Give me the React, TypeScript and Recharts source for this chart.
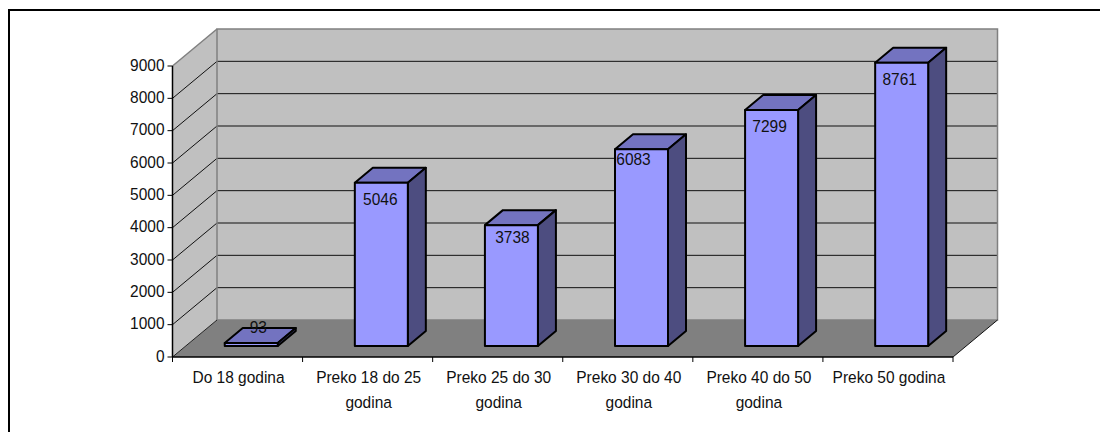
import { BarChart, Bar, XAxis, YAxis, ReferenceArea, LabelList } from "recharts";

const categories = [
  ["Do 18 godina"],
  ["Preko 18 do 25", "godina"],
  ["Preko 25 do 30", "godina"],
  ["Preko 30 do 40", "godina"],
  ["Preko 40 do 50", "godina"],
  ["Preko 50 godina"],
];
const values = [93, 5046, 3738, 6083, 7299, 8761];
const yTicks = [0, 1000, 2000, 3000, 4000, 5000, 6000, 7000, 8000, 9000];
const yMax = 9000;

const chartData = categories.map((lines, i) => ({ name: lines.join(" "), lines, value: values[i] }));

// hand-placed data labels in the original, offset from the top centre of the front face
const labelDx = [7, -1, 1, -8, -2, -2];
const labelDy = [-16, 16, 12, 10, 16, 16];

const FONT = "'Liberation Sans', Arial, sans-serif";
const FONT_SIZE = 17.2;

// fake 3D depth
const WALL_DX = 44.5;
const WALL_DY = 37;
const BAR_DX = 18;
const BAR_DY = 15;
const SHIFT_X = (WALL_DX - BAR_DX) / 2;
const SHIFT_Y = (WALL_DY - BAR_DY) / 2;

const PLOT_LEFT = 172.5;
const PLOT_RIGHT = 953;
const PLOT_TOP = 66;
const PLOT_BOTTOM = 357;
const CHART_W = 1100;
const CHART_H = 432;
const BAND = (PLOT_RIGHT - PLOT_LEFT) / categories.length;

const pts = (list: number[][]) => list.map((p) => p.join(",")).join(" ");

// the source picture was stretched upward, so the glyphs are narrower than plain Arial
function Label(props: any) {
  const { x, y, anchor = "middle", children } = props;
  return (
    <text
      transform={`translate(${x},${y}) scale(0.9,1)`}
      textAnchor={anchor}
      fontFamily={FONT}
      fontSize={FONT_SIZE}
      fill="#111"
    >
      {children}
    </text>
  );
}

function Walls(props: any) {
  const { x, y, width, height } = props;
  const bottom = y + height;
  const right = x + width;
  const bx = x + WALL_DX;
  const brx = right + WALL_DX;
  const by = y - WALL_DY;
  const bb = bottom - WALL_DY;
  return (
    <g>
      <polygon points={pts([[x, bottom], [x, y], [bx, by], [bx, bb]])} fill="#c0c0c0" />
      <rect x={bx} y={by} width={width} height={height} fill="#c0c0c0" />
      {yTicks
        .filter((t) => t > 0 && t < yMax)
        .map((t) => {
          const ty = bottom - (t / yMax) * height;
          return (
            <g key={t}>
              <line x1={x} y1={ty} x2={bx} y2={ty - WALL_DY} stroke="#111" strokeWidth={1} />
              <line x1={bx} y1={ty - WALL_DY} x2={brx} y2={ty - WALL_DY} stroke="#111" strokeWidth={1} />
            </g>
          );
        })}
      <polygon points={pts([[x, bottom], [bx, bb], [brx, bb], [right, bottom]])} fill="#808080" />
      <line x1={x} y1={y} x2={bx} y2={by} stroke="#808080" strokeWidth={1.5} />
      <rect x={bx} y={by} width={width} height={height} fill="none" stroke="#808080" strokeWidth={1.5} />
      <line x1={x} y1={bottom} x2={bx} y2={bb} stroke="#222" strokeWidth={1} />
      <line x1={right} y1={bottom} x2={brx} y2={bb} stroke="#111" strokeWidth={1} />
    </g>
  );
}

function Bar3D(props: any) {
  const { x, y, width, height } = props;
  const l = x + SHIFT_X;
  const r = l + width;
  const t = y - SHIFT_Y;
  const b = t + height;
  const line = { stroke: "#000", strokeWidth: 2, strokeLinejoin: "round" as const };
  return (
    <g>
      <polygon points={pts([[l, t], [l + BAR_DX, t - BAR_DY], [r + BAR_DX, t - BAR_DY], [r, t]])} fill="#7373c0" {...line} />
      <polygon points={pts([[r, t], [r + BAR_DX, t - BAR_DY], [r + BAR_DX, b - BAR_DY], [r, b]])} fill="#4d4d80" {...line} />
      <rect x={l} y={t} width={width} height={height} fill="#9999ff" {...line} />
    </g>
  );
}

function BarValue(props: any) {
  const { x, y, width, value, index } = props;
  return (
    <Label x={x + SHIFT_X + width / 2 + labelDx[index]} y={y - SHIFT_Y + labelDy[index] + 6}>
      {value}
    </Label>
  );
}

function CategoryTick(props: any) {
  const { x, y, index } = props;
  const left = x - BAND / 2;
  const lines = categories[index] || [];
  return (
    <g>
      <line x1={left} y1={PLOT_BOTTOM} x2={left} y2={PLOT_BOTTOM + 5} stroke="#000" />
      {index === categories.length - 1 && (
        <line x1={left + BAND} y1={PLOT_BOTTOM} x2={left + BAND} y2={PLOT_BOTTOM + 5} stroke="#000" />
      )}
      {lines.map((s: string, i: number) => (
        <Label key={i} x={x + 1} y={y + 18 + i * 25}>
          {s}
        </Label>
      ))}
    </g>
  );
}

function ValueTick(props: any) {
  const { x, y, payload } = props;
  return (
    <Label x={x} y={y + 4.5} anchor="end">
      {payload.value}
    </Label>
  );
}

export default function App() {
  return (
    <div style={{ position: "absolute", left: 0, top: 0, width: CHART_W, height: CHART_H, background: "#fff", overflow: "hidden" }}>
      <div style={{ position: "absolute", left: 8, top: 9, width: CHART_W, height: CHART_H, borderLeft: "2px solid #000", borderTop: "2px solid #000" }} />
      <BarChart
        width={CHART_W}
        height={CHART_H}
        data={chartData}
        barSize={53}
        margin={{ top: PLOT_TOP, right: CHART_W - PLOT_RIGHT, bottom: CHART_H - PLOT_BOTTOM - 40, left: PLOT_LEFT - 60 }}
        style={{ position: "absolute", left: 0, top: 0 }}
      >
        <XAxis
          dataKey="name"
          height={40}
          interval={0}
          tickLine={false}
          axisLine={{ stroke: "#000", strokeWidth: 1.5 }}
          tick={<CategoryTick />}
        />
        <YAxis
          width={60}
          domain={[0, yMax]}
          ticks={yTicks}
          interval={0}
          tickSize={5}
          tickMargin={3}
          axisLine={{ stroke: "#000", strokeWidth: 1.5 }}
          tickLine={{ stroke: "#000" }}
          tick={<ValueTick />}
        />
        <ReferenceArea y1={0} y2={yMax} ifOverflow="visible" shape={<Walls />} />
        <Bar dataKey="value" isAnimationActive={false} shape={<Bar3D />}>
          <LabelList dataKey="value" content={<BarValue />} />
        </Bar>
      </BarChart>
    </div>
  );
}
